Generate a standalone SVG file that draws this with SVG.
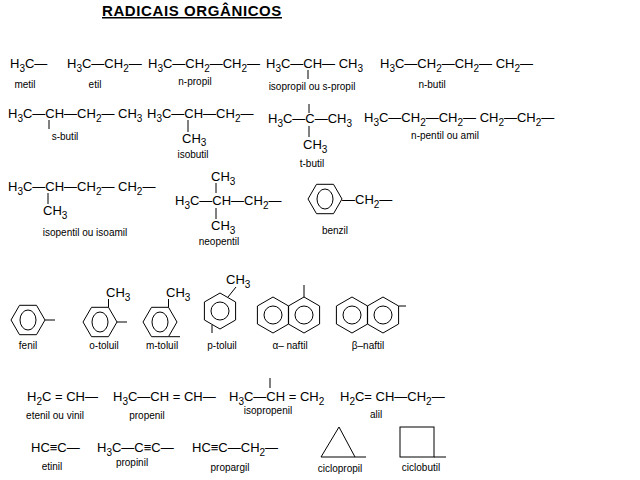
<svg xmlns="http://www.w3.org/2000/svg" width="640" height="480" viewBox="0 0 640 480">
<style>
text{font-family:"Liberation Sans",Arial,sans-serif;fill:#000}
.f{font-size:13px}
.l{font-size:10px;text-anchor:middle}
.s{font-size:10px}
.t{font-size:15px;font-weight:bold;text-decoration:underline;letter-spacing:0.6px}
line,polygon,circle,.b{stroke:#000;stroke-width:1;fill:none}
</style>
<defs>
<g id="hx"><polygon points="-17,0 -8.5,-14.7 8.5,-14.7 17,0 8.5,14.7 -8.5,14.7"/><ellipse cx="0" cy="0" rx="8" ry="10" stroke="#000" fill="none"/></g>
<g id="hp"><polygon points="0,-18 15.6,-9 15.6,9 0,18 -15.6,9 -15.6,-9"/><circle cx="0" cy="0" r="9"/></g>
</defs>
<rect width="640" height="480" fill="#fff"/>
<text class="t" x="102" y="16">RADICAIS ORGÂNICOS</text>

<g id="metil"><text class="f" x="10" y="68">H<tspan class="s" dy="4">3</tspan><tspan dy="-4">C—</tspan></text><text class="l" x="25" y="88">metil</text></g>
<g id="etil"><text class="f" x="67" y="68">H<tspan class="s" dy="4">3</tspan><tspan dy="-4">C—CH</tspan><tspan class="s" dy="4">2</tspan><tspan dy="-4">—</tspan></text><text class="l" x="95" y="88">etil</text></g>
<g id="npropil"><text class="f" x="148" y="68">H<tspan class="s" dy="4">3</tspan><tspan dy="-4">C—CH</tspan><tspan class="s" dy="4">2</tspan><tspan dy="-4">—CH</tspan><tspan class="s" dy="4">2</tspan><tspan dy="-4">—</tspan></text><text class="l" x="195" y="85">n-propil</text></g>
<g id="isopropil"><text class="f" x="266" y="68">H<tspan class="s" dy="4">3</tspan><tspan dy="-4">C—CH— CH</tspan><tspan class="s" dy="4">3</tspan></text><line x1="308" y1="70" x2="308" y2="79"/><text class="l" x="312" y="90">isopropil ou s-propil</text></g>
<g id="nbutil"><text class="f" x="380" y="68">H<tspan class="s" dy="4">3</tspan><tspan dy="-4">C—CH</tspan><tspan class="s" dy="4">2</tspan><tspan dy="-4">—CH</tspan><tspan class="s" dy="4">2</tspan><tspan dy="-4">— CH</tspan><tspan class="s" dy="4">2</tspan><tspan dy="-4">—</tspan></text><text class="l" x="432" y="88">n-butil</text></g>

<g id="sbutil"><text class="f" x="8" y="118">H<tspan class="s" dy="4">3</tspan><tspan dy="-4">C—CH—CH</tspan><tspan class="s" dy="4">2</tspan><tspan dy="-4">— CH</tspan><tspan class="s" dy="4">3</tspan></text><line x1="49" y1="120" x2="49" y2="129"/><text class="l" x="65" y="140">s-butil</text></g>
<g id="isobutil"><text class="f" x="147" y="118">H<tspan class="s" dy="4">3</tspan><tspan dy="-4">C—CH—CH</tspan><tspan class="s" dy="4">2</tspan><tspan dy="-4">—</tspan></text><line x1="188" y1="120" x2="188" y2="132"/><text class="f" x="182" y="143">CH<tspan class="s" dy="3">3</tspan></text><text class="l" x="193" y="158">isobutil</text></g>
<g id="tbutil"><text class="f" x="268" y="123">H<tspan class="s" dy="4">3</tspan><tspan dy="-4">C—C—CH</tspan><tspan class="s" dy="4">3</tspan></text><line x1="309" y1="104" x2="309" y2="113"/><line x1="309" y1="126" x2="309" y2="137"/><text class="f" x="303" y="149">CH<tspan class="s" dy="4">3</tspan></text><text class="l" x="312" y="167">t-butil</text></g>
<g id="npentil"><text class="f" x="364" y="122">H<tspan class="s" dy="4">3</tspan><tspan dy="-4">C—CH</tspan><tspan class="s" dy="4">2</tspan><tspan dy="-4">—CH</tspan><tspan class="s" dy="4">2</tspan><tspan dy="-4">— CH</tspan><tspan class="s" dy="4">2</tspan><tspan dy="-4">—CH</tspan><tspan class="s" dy="4">2</tspan><tspan dy="-4">—</tspan></text><text class="l" x="445" y="139">n-pentil ou amil</text></g>

<g id="isopentil"><text class="f" x="8" y="191">H<tspan class="s" dy="4">3</tspan><tspan dy="-4">C—CH—CH</tspan><tspan class="s" dy="4">2</tspan><tspan dy="-4">— CH</tspan><tspan class="s" dy="4">2</tspan><tspan dy="-4">—</tspan></text><line x1="48" y1="193" x2="48" y2="204"/><text class="f" x="43" y="215">CH<tspan class="s" dy="4">3</tspan></text><text class="l" x="85" y="236">isopentil ou isoamil</text></g>
<g id="neopentil"><text class="f" x="211" y="181">CH<tspan class="s" dy="4">3</tspan></text><text class="f" x="175" y="205">H<tspan class="s" dy="4">3</tspan><tspan dy="-4">C—CH—CH</tspan><tspan class="s" dy="4">2</tspan><tspan dy="-4">—</tspan></text><line x1="216" y1="183" x2="216" y2="193"/><line x1="216" y1="208" x2="216" y2="219"/><text class="f" x="211" y="230">CH<tspan class="s" dy="4">3</tspan></text><text class="l" x="219" y="245">neopentil</text></g>
<g id="benzil"><use href="#hx" x="325" y="199"/><text class="f" x="342" y="204">—CH<tspan class="s" dy="4">2</tspan><tspan dy="-4">—</tspan></text><text class="l" x="335" y="234">benzil</text></g>

<g id="fenil"><use href="#hx" x="28" y="320"/><line x1="45" y1="320" x2="55" y2="320"/><text class="l" x="28" y="349">fenil</text></g>
<g id="otoluil"><use href="#hx" x="100" y="322"/><line x1="108.5" y1="307.3" x2="108.5" y2="299"/><line x1="117" y1="322" x2="127" y2="322"/><text class="f" x="106" y="297">CH<tspan class="s" dy="4">3</tspan></text><text class="l" x="104" y="349">o-toluil</text></g>
<g id="mtoluil"><use href="#hx" x="160" y="322"/><line x1="168.5" y1="307.3" x2="168.5" y2="299"/><line x1="168.5" y1="336.7" x2="180" y2="336.7"/><text class="f" x="166" y="297">CH<tspan class="s" dy="4">3</tspan></text><text class="l" x="162" y="349">m-toluil</text></g>
<g id="ptoluil"><use href="#hp" x="220" y="311"/><line x1="228" y1="297" x2="236" y2="287"/><line x1="212" y1="325" x2="212" y2="333"/><text class="f" x="226" y="284">CH<tspan class="s" dy="4">3</tspan></text><text class="l" x="222" y="349">p-toluil</text></g>
<g id="anaftil"><use href="#hp" x="273" y="315"/><use href="#hp" x="304" y="315"/><line x1="304" y1="297" x2="304" y2="285"/><text class="l" x="290" y="349">α– naftil</text></g>
<g id="bnaftil"><use href="#hp" x="352" y="315"/><use href="#hp" x="383" y="315"/><line x1="398.6" y1="306" x2="406" y2="306"/><text class="l" x="368" y="349">β–naftil</text></g>

<g id="etenil"><text class="f" x="27" y="401">H<tspan class="s" dy="4">2</tspan><tspan dy="-4">C = CH—</tspan></text><text class="l" x="55" y="419">etenil ou vinil</text></g>
<g id="propenil"><text class="f" x="113" y="401">H<tspan class="s" dy="4">3</tspan><tspan dy="-4">C—CH = CH—</tspan></text><text class="l" x="147" y="419">propenil</text></g>
<g id="isopropenil"><text class="f" x="229" y="401">H<tspan class="s" dy="4">3</tspan><tspan dy="-4">C—CH = CH</tspan><tspan class="s" dy="4">2</tspan></text><line x1="270" y1="378" x2="270" y2="388"/><text class="l" x="268" y="414">isopropenil</text></g>
<g id="alil"><text class="f" x="340" y="401">H<tspan class="s" dy="4">2</tspan><tspan dy="-4">C= CH—CH</tspan><tspan class="s" dy="4">2</tspan><tspan dy="-4">—</tspan></text><text class="l" x="376" y="418">alil</text></g>

<g id="etinil"><text class="f" x="31" y="452">HC≡C—</text><text class="l" x="52" y="470">etinil</text></g>
<g id="propinil"><text class="f" x="97" y="452">H<tspan class="s" dy="4">3</tspan><tspan dy="-4">C—C≡C—</tspan></text><text class="l" x="132" y="466">propinil</text></g>
<g id="propargil"><text class="f" x="192" y="452">HC≡C—CH<tspan class="s" dy="4">2</tspan><tspan dy="-4">—</tspan></text><text class="l" x="230" y="471">propargil</text></g>
<g id="ciclopropil"><polygon points="321,457 339,427 355,457"/><line x1="355" y1="457" x2="366" y2="457"/><text class="l" x="340" y="472">ciclopropil</text></g>
<g id="ciclobutil"><rect class="b" x="400" y="427" width="34" height="30"/><line x1="434" y1="457" x2="446" y2="457"/><text class="l" x="421" y="471">ciclobutil</text></g>
</svg>
